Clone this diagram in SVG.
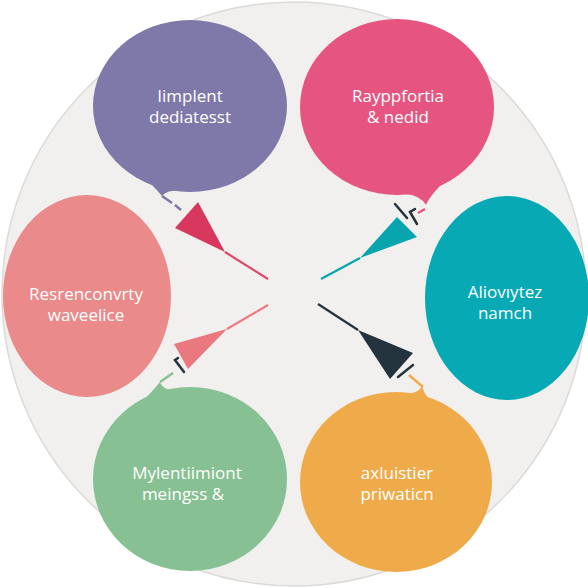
<svg xmlns="http://www.w3.org/2000/svg" width="588" height="588" viewBox="0 0 588 588">
  <style>
    .lbl { font-family: "Open Sans", "Liberation Sans", sans-serif; font-size: 17px; font-weight: 500; fill: #ffffff; text-anchor: middle; }
    .mark { stroke: #24343f; stroke-width: 2.5; stroke-linecap: round; fill: none; }
  </style>
  <rect width="588" height="588" fill="#ffffff"/>
  <circle cx="294" cy="294" r="292" fill="#f1f0ee" stroke="#dcdad7" stroke-width="1.5"/>

  <g id="node-purple" fill="#7e79a8">
    <ellipse cx="190" cy="106" rx="97" ry="86"/>
    <path d="M140 172 Q155 188 162 196 Q166 190 182 190 Z"/>
    <text class="lbl" x="190" y="102">Iimplent</text>
    <text class="lbl" x="190" y="123">dediatesst</text>
  </g>

  <g id="node-pink" fill="#e65580">
    <ellipse cx="397" cy="107" rx="97" ry="88"/>
    <path d="M405 194 Q420 195 426 205 Q430 195 448 178 Z"/>
    <text class="lbl" x="398" y="102">Rayppfortia</text>
    <text class="lbl" x="398" y="123">&amp; nedid</text>
  </g>

  <g id="node-salmon">
    <ellipse cx="87" cy="296" rx="84" ry="101" fill="#ea8a8a"/>
    <text class="lbl" x="86" y="300">Resrenconvrty</text>
    <text class="lbl" x="86" y="321">waveelice</text>
  </g>

  <g id="node-teal">
    <ellipse cx="507" cy="298" rx="82" ry="102" fill="#06a9b4"/>
    <text class="lbl" x="505" y="298">Aliovıytez</text>
    <text class="lbl" x="505" y="319">namch</text>
  </g>

  <g id="node-green" fill="#87c093">
    <ellipse cx="190" cy="479" rx="97" ry="92"/>
    <path d="M136 408 Q152 392 160 382 Q164 394 192 390 Z"/>
    <text class="lbl" x="187" y="479">Mylentiimiont</text>
    <text class="lbl" x="183" y="500">meingss &amp;</text>
  </g>

  <g id="node-orange" fill="#efab4a">
    <ellipse cx="396" cy="482" rx="96" ry="90"/>
    <path d="M395 395 Q418 395 422 386 Q426 402 448 412 Z"/>
    <text class="lbl" x="397" y="479">axluistier</text>
    <text class="lbl" x="397" y="500">priwaticn</text>
  </g>

  <g id="connectors">
    <!-- upper left: crimson wedge -->
    <line x1="268" y1="279" x2="225" y2="252" stroke="#e0456a" stroke-width="2.2"/>
    <polygon points="198,202 175,228 225,252" fill="#d9385e"/>
    <line x1="162" y1="196" x2="172" y2="203" stroke="#7e79a8" stroke-width="2.5"/>
    <line x1="175" y1="205" x2="181" y2="210" stroke="#7e79a8" stroke-width="2.5"/>

    <!-- upper right: teal wedge -->
    <line x1="321" y1="279" x2="360" y2="258" stroke="#09a5ae" stroke-width="2.2"/>
    <polygon points="397,217 417,237 360,258" fill="#09a5ae"/>
    <line class="mark" x1="395" y1="204" x2="407" y2="218"/>
    <polyline class="mark" points="415,209 410,212 417,224"/>
    <line x1="418" y1="213" x2="425" y2="209" stroke="#e65580" stroke-width="2.5"/>

    <!-- lower left: salmon wedge -->
    <line x1="268" y1="305" x2="227" y2="329" stroke="#ec7a82" stroke-width="2.2"/>
    <polygon points="174,344 188,369 227,329" fill="#e9787f"/>
    <polyline class="mark" points="178,358 175,360 184,372"/>
    <line x1="160" y1="382" x2="173" y2="373" stroke="#87c093" stroke-width="2.5"/>

    <!-- lower right: dark wedge -->
    <line x1="318" y1="304" x2="358" y2="330" stroke="#24343f" stroke-width="2.2"/>
    <polygon points="358,330 413,353 390,379" fill="#24343f"/>
    <line class="mark" x1="398" y1="377" x2="413" y2="365"/>
    <line x1="409" y1="375" x2="423" y2="387" stroke="#efab4a" stroke-width="2.5"/>
  </g>
</svg>
